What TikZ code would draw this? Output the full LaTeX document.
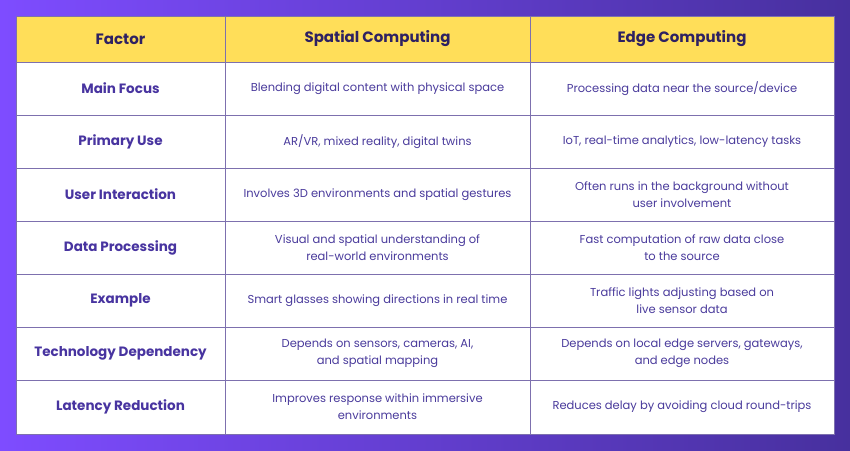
\documentclass[tikz,border=0pt]{standalone}
\usepackage{fontspec}
\setmainfont{Poppins}
\definecolor{bgl}{HTML}{7E4CFF}
\definecolor{bgr}{HTML}{47309E}
\definecolor{hdr}{HTML}{FFDE59}
\definecolor{htxt}{HTML}{2E2162}
\definecolor{ltxt}{HTML}{4834A0}
\definecolor{btxt}{HTML}{4A3B9C}
\definecolor{grid}{HTML}{7D70AE}
\tikzset{
 hd/.style={font=\fontsize{15}{18}\selectfont\bfseries, text=htxt},
 lb/.style={font=\fontsize{13.5}{16}\selectfont\bfseries, text=ltxt},
 bd/.style={font=\fontsize{11.5}{17}\selectfont, text=btxt, align=center},
}
\begin{document}
\begin{tikzpicture}[x=1pt,y=-1pt]
\shade[left color=bgl, right color=bgr] (0,0) rectangle (850,450);
\useasboundingbox (0,0) rectangle (850,450);
\fill[white] (16,16) rectangle (834,434);
\fill[hdr] (16,16) rectangle (834,62);
\foreach \y in {62,115,168,221,274,327,380} \draw[grid,line width=0.8] (16,\y) -- (834,\y);
\draw[grid,line width=0.8] (225,16) -- (225,434) (530,16) -- (530,434) (16,16) rectangle (834,434);
\node[hd] (h1) at (120.5,39) {Factor};
\node[hd] (h2) at (377.5,39) {Spatial Computing};
\node[hd] (h3) at (682,39) {Edge Computing};
\node[lb] (l1) at (120.5,88.5) {Main Focus};
\node[lb] (l2) at (120.5,141.5) {Primary Use};
\node[lb] (l3) at (120.5,194.5) {User Interaction};
\node[lb] (l4) at (120.5,247.5) {Data Processing};
\node[lb] (l5) at (120.5,300.5) {Example};
\node[lb] (l6) at (120.5,353.5) {Technology Dependency};
\node[lb] (l7) at (120.5,407) {Latency Reduction};
\node[bd] (a1) at (377.5,88.5) {Blending digital content with physical space};
\node[bd] (a2) at (377.5,141.5) {AR/VR, mixed reality, digital twins};
\node[bd] (a3) at (377.5,194.5) {Involves 3D environments and spatial gestures};
\node[bd] (a4) at (377.5,247.5) {Visual and spatial understanding of\\real-world environments};
\node[bd] (a5) at (377.5,300.5) {Smart glasses showing directions in real time};
\node[bd] (a6) at (377.5,353.5) {Depends on sensors, cameras, AI,\\and spatial mapping};
\node[bd] (a7) at (377.5,407) {Improves response within immersive\\environments};
\node[bd] (b1) at (682,88.5) {Processing data near the source/device};
\node[bd] (b2) at (682,141.5) {IoT, real-time analytics, low-latency tasks};
\node[bd] (b3) at (682,194.5) {Often runs in the background without\\user involvement};
\node[bd] (b4) at (682,247.5) {Fast computation of raw data close\\to the source};
\node[bd] (b5) at (682,300.5) {Traffic lights adjusting based on\\live sensor data};
\node[bd] (b6) at (682,353.5) {Depends on local edge servers, gateways,\\and edge nodes};
\node[bd] (b7) at (682,407) {Reduces delay by avoiding cloud round-trips};
\end{tikzpicture}
\end{document}
